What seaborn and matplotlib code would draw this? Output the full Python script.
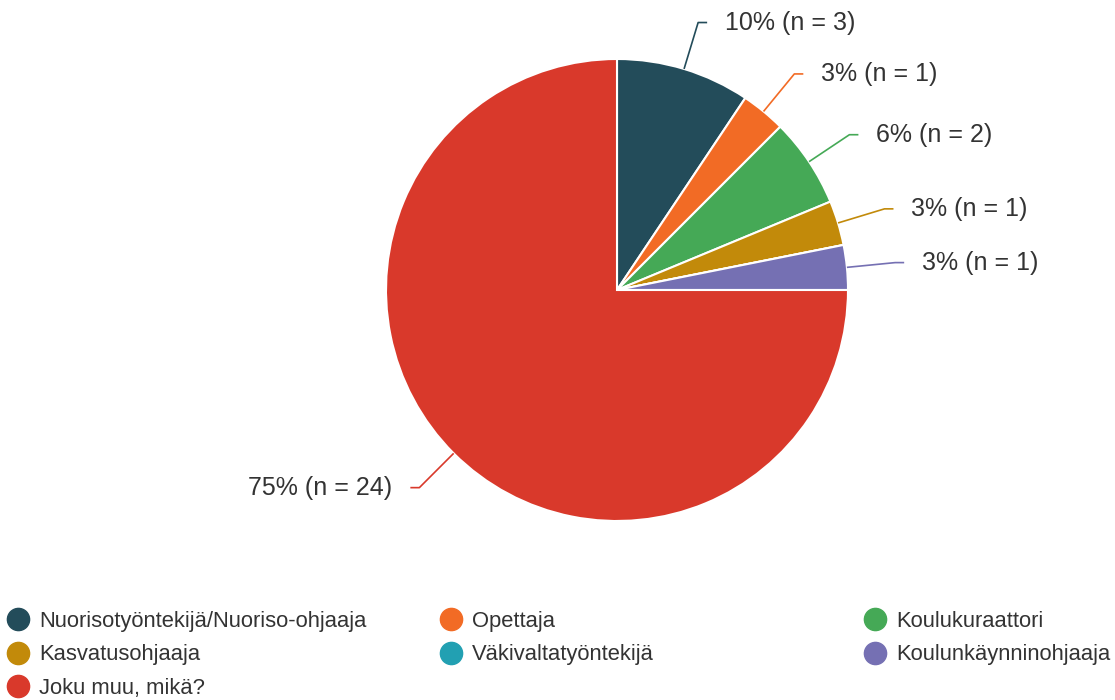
import numpy as np
import seaborn as sns
import matplotlib.pyplot as plt
from matplotlib.lines import Line2D

# --- data ---
categories = [
    "Nuorisotyöntekijä/Nuoriso-ohjaaja",
    "Opettaja",
    "Koulukuraattori",
    "Kasvatusohjaaja",
    "Väkivaltatyöntekijä",
    "Koulunkäynninohjaaja",
    "Joku muu, mikä?",
]
counts = [3, 1, 2, 1, 0, 1, 24]
percent_labels = ["10%", "3%", "6%", "3%", "0%", "3%", "75%"]
colors = ["#234c5a", "#f26b25", "#45a956", "#c28a0a", "#22a0b2", "#7570b3", "#d9392b"]

sns.set_theme(style="white")
plt.rcParams["font.family"] = ["Liberation Sans", "DejaVu Sans"]
TEXT = "#333333"

W, H = 1115, 700
CX, CY, R = 617, 290, 231  # pie centre / radius in pixels

fig = plt.figure(figsize=(W / 100, H / 100), dpi=100)
ax = fig.add_axes([0, 0, 1, 1])

wedges, _ = ax.pie(
    counts,
    colors=colors,
    startangle=90,
    counterclock=False,
    radius=1,
    wedgeprops={"edgecolor": "white", "linewidth": 1.5},
)
ax.set_xlim(-CX / R, (W - CX) / R)
ax.set_ylim((CY - H) / R, CY / R)
ax.set_aspect("equal")
ax.axis("off")

# leader lines + labels
for w, n, pct, col in zip(wedges, counts, percent_labels, colors):
    if n == 0:
        continue
    ang = np.deg2rad((w.theta1 + w.theta2) / 2)
    x0, y0 = np.cos(ang), np.sin(ang)
    x1, y1 = 1.21 * x0, 1.21 * y0
    side = 1 if x0 >= 0 else -1
    x2 = x1 + side * 9 / R
    ax.plot([x0, x1, x2], [y0, y1, y1], color=col, lw=1.2, solid_capstyle="butt")
    ax.text(x2 + side * 18 / R, y1, f"{pct} (n = {n})",
            ha="left" if side > 0 else "right", va="center",
            fontsize=18, color=TEXT)

# legend: three columns, row-major order
col_x = [7, 440, 864]
for j, x in enumerate(col_x):
    idx = list(range(j, len(categories), 3))
    handles = [Line2D([], [], marker="o", linestyle="none", markersize=16,
                      markerfacecolor=colors[i], markeredgecolor=colors[i])
               for i in idx]
    leg = fig.legend(handles, [categories[i] for i in idx],
                     loc="upper left", bbox_to_anchor=(x / W, 1 - 611 / H),
                     frameon=False, fontsize=15.8, handlelength=1.0,
                     handletextpad=0.45, labelspacing=0.56, borderpad=0,
                     borderaxespad=0)
    for t in leg.get_texts():
        t.set_color(TEXT)

fig.savefig("out.png", dpi=100)
